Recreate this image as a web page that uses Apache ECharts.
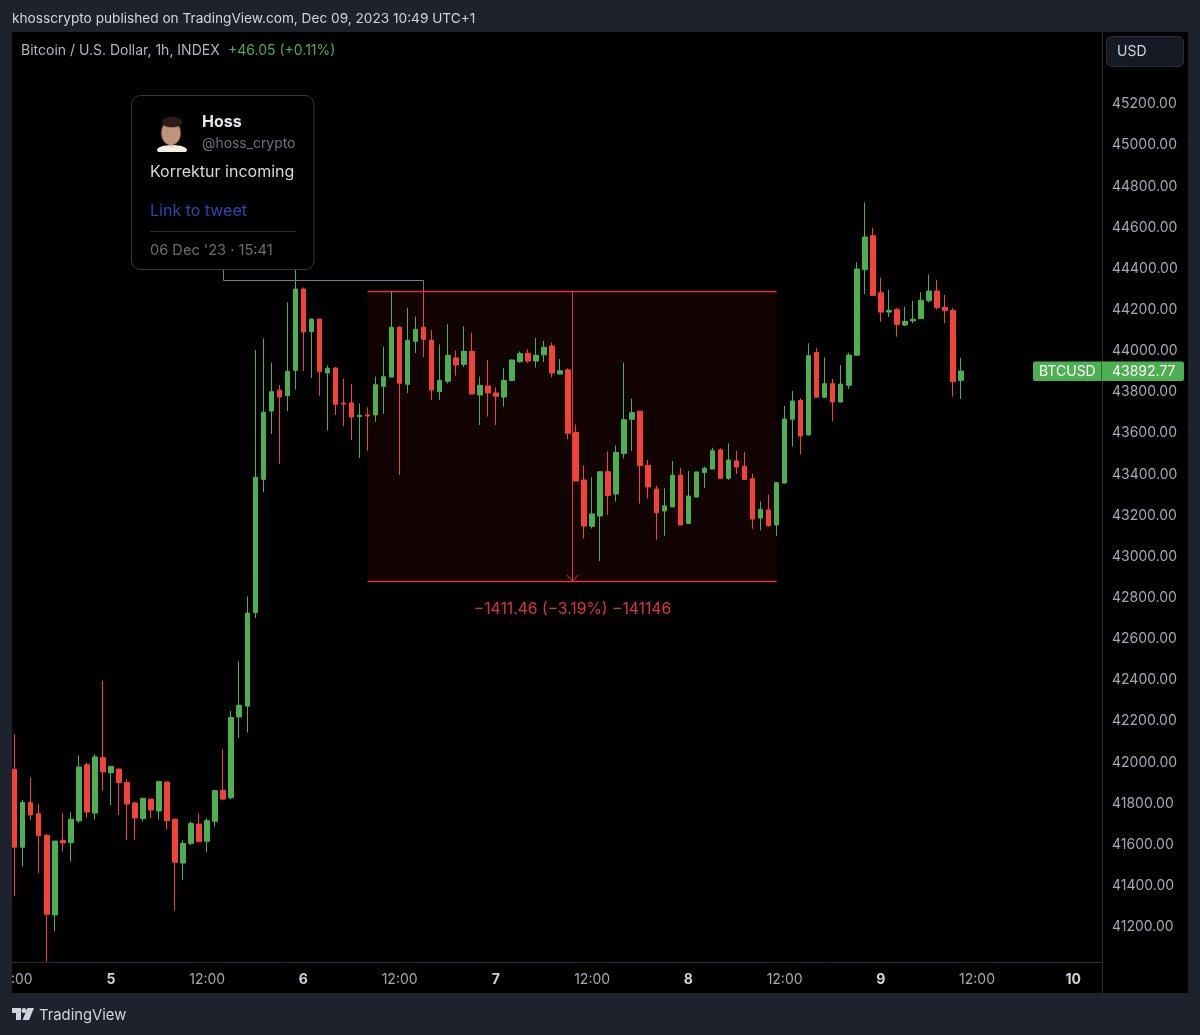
<!DOCTYPE html>
<html>
<head>
<meta charset="utf-8">
<title>BTCUSD 1h</title>
<style>
html, body { margin: 0; padding: 0; background: #1e222d; }
#chart { width: 1200px; height: 1035px; }
</style>
<script src="https://cdn.jsdelivr.net/npm/echarts@6/dist/echarts.min.js"></script>
</head>
<body>
<div id="chart"></div>
<script>
var FONT = 'Inter, "Noto Sans", sans-serif';

// hourly candles, first one is Dec 4 12:00
var opens = [41957,41578,41795,41741,41636,41249,41610,41600,41706,41979,41744,42013,41940,41958,41892,41793,41717,41812,41754,41895,41714,41501,41597,41691,41607,41704,41855,41819,42211,42264,42718,43366,43698,43799,43773,43896,44291,44084,44145,43883,43907,43737,43737,43671,43679,43679,43818,43863,44105,43828,44037,44105,44042,43792,43843,43956,43925,43988,43776,43820,43786,43766,43846,43938,43979,43941,43971,44014,43878,43898,43593,43363,43138,43188,43403,43295,43492,43658,43697,43434,43319,43212,43232,43386,43151,43280,43399,43416,43509,43371,43455,43429,43369,43178,43217,43144,43348,43658,43750,43582,43982,43765,43831,43742,43823,43969,44385,44550,44273,44179,44192,44116,44136,44147,44234,44281,44202,44187,43846.72];
var closes = [41578,41796,41735,41634,41252,41608,41599,41714,41968,41749,42017,41944,41971,41892,41788,41720,41816,41759,41897,41707,41505,41597,41693,41605,41707,41853,41812,42208,42268,42716,43376,43692,43792,43766,43891,44291,44082,44145,43889,43906,43731,43732,43669,43677,43674,43826,43865,44105,43833,44042,44095,44047,43800,43846,43969,43922,43988,43781,43823,43786,43770,43846,43946,43977,43941,43969,44008,43883,43894,43590,43358,43139,43198,43403,43288,43497,43656,43690,43433,43329,43204,43237,43386,43144,43285,43402,43420,43505,43371,43460,43426,43365,43173,43220,43141,43350,43659,43747,43577,43967,43765,43831,43742,43829,43970,44388,44544,44260,44179,44187,44119,44134,44144,44236,44281,44200,44187,43841,43892.77];
var lows = [41341,41484,41710,41451,41022,41171,41558,41508,41697,41722,41712,41853,41782,41735,41613,41613,41702,41720,41712,41663,41270,41420,41587,41603,41553,41678,41806,41811,42109,42135,42691,43303,43586,43442,43697,43802,43893,43859,43773,43603,43679,43625,43557,43470,43504,43645,43685,43862,43387,43786,43980,43961,43752,43752,43831,43870,43912,43779,43630,43671,43630,43719,43844,43932,43932,43909,43936,43862,43877,43561,43358,43078,43126,42969,43194,43258,43467,43504,43248,43272,43073,43092,43230,43143,43149,43279,43324,43415,43369,43363,43392,43363,43126,43118,43136,43092,43347,43525,43488,43580,43763,43763,43648,43740,43805,43967,44267,44259,44132,44155,44059,44111,44124,44145,44226,44191,44124,43768,43757];
var highs = [42127,41808,41918,41788,41642,41608,41743,41748,42025,41989,42030,42388,41974,41960,41908,41800,41817,41812,41898,41895,41717,41612,41704,41743,41718,41856,42054,42240,42480,42797,43995,44051,43933,43825,44226,44420,44299,44147,44147,43920,43912,43855,43829,43735,43716,43865,44011,44278,44111,44200,44157,44278,44092,44022,44120,43992,44110,44079,43865,43946,43813,43906,43949,43988,43998,44053,44039,44030,43951,43906,43633,43434,43376,43403,43502,43531,43933,43758,43700,43460,43335,43322,43455,43421,43407,43403,43428,43520,43517,43541,43504,43499,43394,43259,43292,43351,43723,43795,43760,44027,44003,43959,43854,43922,43982,44421,44712,44588,44346,44288,44200,44204,44233,44275,44362,44335,44262,44199,43957];

// short position drawing: candle index range and price range
var boxFrom = 44, boxTo = 95;
var boxTop = 44281, boxBottom = 42869.6;
var boxLabel = '\u22121411.46 (\u22123.19%) \u2212141146';
var lastPrice = 43892.77;

var UP = '#4caf50', DOWN = '#f44336', LINE = '#e0353f', FRAME = '#1e222d', SEP = '#2a2e39';

var categories = [];
for (var i = 0; i < 136; i++) {
    var h = (12 + i) % 24;
    var day = 4 + Math.floor((12 + i) / 24);
    categories.push(h === 0 ? String(day) : (h < 10 ? '0' : '') + h + ':00');
}

var candles = [];
for (var j = 0; j < opens.length; j++) {
    candles.push([opens[j], closes[j], lows[j], highs[j]]);
}

function renderBox(params, api) {
    var a = api.coord([api.value(0), api.value(1)]);
    var b = api.coord([api.value(2), api.value(3)]);
    return { type: 'rect', shape: { x: a[0], y: a[1], width: b[0] - a[0], height: b[1] - a[1] },
        style: { fill: '#130404', stroke: 'none', lineWidth: 0 } };
}

function boxStroke() {
    return { stroke: LINE, lineWidth: 1, fill: null };
}

function renderBoxLines(params, api) {
    var a = api.coord([api.value(0), api.value(1)]);
    var b = api.coord([api.value(2), api.value(3)]);
    var mid = Math.round((a[0] + b[0]) / 2) + 0.5;
    var y0 = Math.round(a[1]), y1 = Math.round(b[1]);
    return { type: 'group', children: [
        { type: 'rect', shape: { x: a[0], y: y0 - 0.2, width: b[0] - a[0], height: 1.4 }, style: { fill: LINE, stroke: 'none', lineWidth: 0 } },
        { type: 'rect', shape: { x: a[0], y: y1 - 0.2, width: b[0] - a[0], height: 1.4 }, style: { fill: LINE, stroke: 'none', lineWidth: 0 } },
        { type: 'line', shape: { x1: mid, y1: y0, x2: mid, y2: y1 }, style: boxStroke() },
        { type: 'polyline', shape: { points: [[mid - 6, y1 - 6], [mid, y1], [mid + 6, y1 - 6]] }, style: boxStroke() },
        { type: 'text', x: mid, y: y1 + 28, style: { text: boxLabel, fill: LINE, font: '15.7px ' + FONT, align: 'center', verticalAlign: 'middle' } }
    ] };
}

function renderPriceTag(params, api) {
    var y = api.coord([0, api.value(1)])[1];
    return { type: 'group', children: [
        { type: 'rect', shape: { x: 1033, y: y - 9.5, width: 151, height: 19.5, r: 2 }, style: { fill: UP } },
        { type: 'line', shape: { x1: 1101.5, y1: y - 9.5, x2: 1101.5, y2: y + 10 }, style: { stroke: '#2f6b33', lineWidth: 1 } },
        { type: 'text', x: 1039, y: y + 1, style: { text: 'BTCUSD', fill: '#fff', font: '14px ' + FONT, verticalAlign: 'middle' } },
        { type: 'text', x: 1112, y: y + 1, style: { text: lastPrice.toFixed(2), fill: '#fff', font: '14px ' + FONT, verticalAlign: 'middle' } }
    ] };
}

function text(x, y, str, color, size, weight) {
    return { type: 'text', z: 60, x: x, y: y + 1, style: { text: str, fill: color,
        font: (weight || 'normal') + ' ' + size + 'px ' + FONT, verticalAlign: 'middle' } };
}
function rect(x, y, w, hh, fill, z) {
    return { type: 'rect', z: z || 50, shape: { x: x, y: y, width: w, height: hh }, style: { fill: fill } };
}
function line(x1, y1, x2, y2, color, z) {
    return { type: 'line', z: z || 55, shape: { x1: x1, y1: y1, x2: x2, y2: y2 }, style: { stroke: color, lineWidth: 1 } };
}

var graphics = [
    // frame around the chart
    rect(0, 0, 12, 1035, FRAME), rect(0, 0, 1200, 32, FRAME),
    rect(1188, 0, 12, 1035, FRAME), rect(0, 993, 1200, 42, FRAME),
    line(12, 962.5, 1102, 962.5, SEP), line(1102.5, 32, 1102.5, 993, SEP),

    text(12, 18, 'khosscrypto published on TradingView.com, Dec 09, 2023 10:49 UTC+1', '#d1d4dc', 13.65),
    text(21, 50, 'Bitcoin / U.S. Dollar, 1h, INDEX', '#b2b5be', 14),
    text(228, 50, '+46.05 (+0.11%)', UP, 14),

    { type: 'rect', z: 55, shape: { x: 1106.5, y: 36.5, width: 77, height: 30, r: 5 }, style: { fill: '#161a25', stroke: SEP, lineWidth: 1 } },
    text(1117, 51, 'USD', '#d1d4dc', 14),

    // connector from the tweet card to the position box
    { type: 'polyline', z: 55, shape: { points: [[223.5, 269], [223.5, 280.5], [423.5, 280.5], [423.5, 291]] }, style: { stroke: '#787b86', lineWidth: 1, fill: null } },

    // tweet card
    { type: 'rect', z: 56, shape: { x: 131.5, y: 95.5, width: 182.5, height: 174, r: 9 }, style: { fill: '#000', stroke: '#35383f', lineWidth: 1 } },
    { type: 'ellipse', z: 57, shape: { cx: 172, cy: 150, rx: 15, ry: 5 }, style: { fill: '#f2efe9' } },
    rect(155, 152, 34, 5, '#000', 57),
    { type: 'ellipse', z: 58, shape: { cx: 171, cy: 133, rx: 9.5, ry: 12 }, style: { fill: '#c0937a', shadowBlur: 3, shadowColor: '#6b4a3a' } },
    { type: 'ellipse', z: 58, shape: { cx: 172, cy: 122, rx: 10, ry: 5 }, style: { fill: '#2a1d18', shadowBlur: 2, shadowColor: '#2a1d18' } },
    text(202, 121, 'Hoss', '#e6e7ea', 16, 'bold'),
    text(202, 143, '@hoss_crypto', '#6f7178', 13.9),
    text(150, 171, 'Korrektur incoming', '#d8d9dc', 16),
    text(150, 210, 'Link to tweet', '#2a46b0', 16),
    line(150, 231.5, 296, 231.5, '#2b2d33', 57),
    text(150, 250, "06 Dec '23 \u00b7 15:41", '#6a6c72', 14.6),

    // footer logo
    { type: 'polygon', z: 60, shape: { points: [[12, 1008], [21, 1008], [21, 1020], [16, 1020], [16, 1013], [12, 1013]] }, style: { fill: '#d1d4dc' } },
    { type: 'circle', z: 60, shape: { cx: 24, cy: 1010.5, r: 2.5 }, style: { fill: '#d1d4dc' } },
    { type: 'polygon', z: 60, shape: { points: [[27.5, 1008], [34, 1008], [29, 1020], [22.5, 1020]] }, style: { fill: '#d1d4dc' } },
    text(39, 1015, 'TradingView', '#d1d4dc', 14.8)
];

var option = {
    animation: false,
    backgroundColor: '#000',
    grid: { left: 10.66, top: 60.85, width: 1090.72, height: 905.3, outerBoundsMode: 'none' },
    xAxis: {
        type: 'category',
        data: categories,
        boundaryGap: true,
        axisLine: { show: false },
        axisTick: { show: false },
        splitLine: { show: false },
        axisLabel: {
            margin: 7,
            interval: function(index) { return index % 12 === 0; },
            formatter: function(val) {
                return val.indexOf(':') < 0 ? '{d|' + val + '}' : '{h|' + val + '}';
            },
            rich: {
                d: { color: '#d1d4dc', fontFamily: FONT, fontSize: 14, fontWeight: 'bold' },
                h: { color: '#a6a9b2', fontFamily: FONT, fontSize: 14 }
            }
        }
    },
    yAxis: {
        type: 'value',
        position: 'right',
        scale: true,
        min: 41000,
        max: 45400,
        interval: 200,
        axisLine: { show: false },
        axisTick: { show: false },
        splitLine: { show: false },
        axisLabel: {
            margin: 10.6,
            showMinLabel: false,
            showMaxLabel: false,
            formatter: function(v) { return '{p|' + v.toFixed(2) + '}'; },
            rich: {
                p: { color: '#a6a9b2', fontFamily: FONT, fontSize: 14, padding: [4, 0, 0, 0] }
            }
        }
    },
    series: [
        {
            type: 'custom', z: 1, silent: true,
            renderItem: renderBox,
            encode: { x: [0, 2], y: [1, 3] },
            data: [[boxFrom, boxTop, boxTo, boxBottom]]
        },
        {
            type: 'candlestick',
            z: 2,
            barWidth: 5,
            itemStyle: { color: UP, color0: DOWN, borderColor: UP, borderColor0: DOWN, borderWidth: 1 },
            data: candles
        },
        {
            type: 'custom', z: 3, silent: true,
            renderItem: renderBoxLines,
            encode: { x: [0, 2], y: [1, 3] },
            data: [[boxFrom, boxTop, boxTo, boxBottom]]
        },
        {
            type: 'custom', z: 60, silent: true,
            renderItem: renderPriceTag,
            encode: { x: 0, y: 1 },
            data: [[118, lastPrice]]
        }
    ],
    graphic: { elements: graphics }
};

var chart = echarts.init(document.getElementById('chart'));
chart.setOption(option);
</script>
</body>
</html>
